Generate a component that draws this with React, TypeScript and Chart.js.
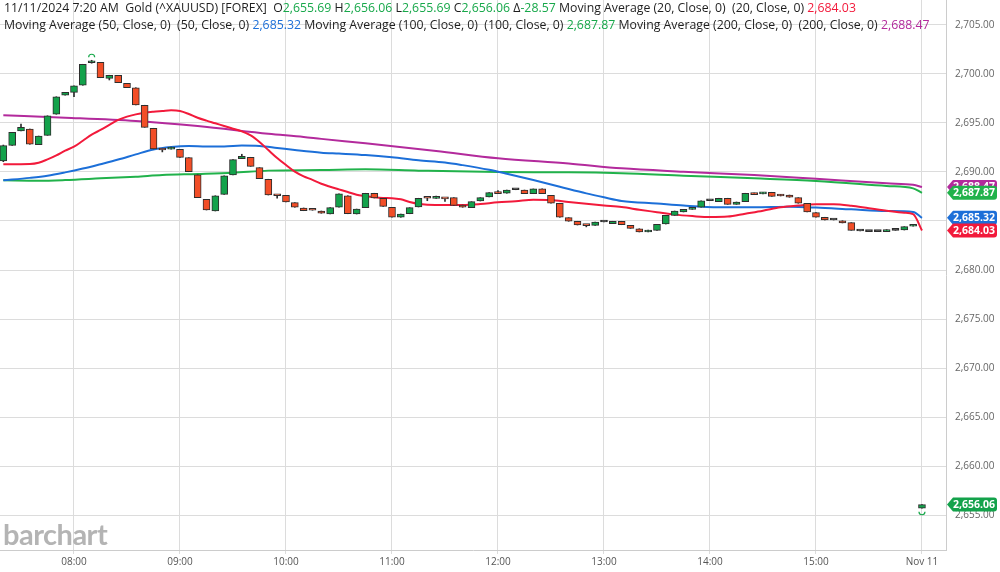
import React, { useEffect, useRef } from 'react';
import { Chart, registerables } from 'chart.js';

Chart.register(...registerables);

// ---------- DATA ----------
const candleTimes: string[] = [
  '07:20', '07:25', '07:30', '07:35', '07:40', '07:45', '07:50', '07:55',
  '08:00', '08:05', '08:10', '08:15', '08:20', '08:25', '08:30', '08:35', '08:40', '08:45', '08:50', '08:55',
  '09:00', '09:05', '09:10', '09:15', '09:20', '09:25', '09:30', '09:35', '09:40', '09:45', '09:50', '09:55',
  '10:00', '10:05', '10:10', '10:15', '10:20', '10:25', '10:30', '10:35', '10:40', '10:45', '10:50', '10:55',
  '11:00', '11:05', '11:10', '11:15', '11:20', '11:25', '11:30', '11:35', '11:40', '11:45', '11:50', '11:55',
  '12:00', '12:05', '12:10', '12:15', '12:20', '12:25', '12:30', '12:35', '12:40', '12:45', '12:50', '12:55',
  '13:00', '13:05', '13:10', '13:15', '13:20', '13:25', '13:30', '13:35', '13:40', '13:45', '13:50', '13:55',
  '14:00', '14:05', '14:10', '14:15', '14:20', '14:25', '14:30', '14:35', '14:40', '14:45', '14:50', '14:55',
  '15:00', '15:05', '15:10', '15:15', '15:20', '15:25', '15:30', '15:35', '15:40', '15:45', '15:50', '15:55',
  '16:00',
];

const opens: number[] = [
  2691.12, 2692.72, 2694.18, 2694.39, 2692.79, 2693.74, 2695.89, 2697.83,
  2698.13, 2698.85, 2701.15, 2701.19, 2699.56, 2699.87, 2699.05, 2698.60, 2696.81, 2694.46, 2692.26, 2692.33,
  2692.32, 2691.46, 2689.72, 2687.21, 2686.02, 2687.72, 2689.69, 2691.36, 2691.50, 2690.44, 2689.26, 2687.60,
  2687.62, 2686.87, 2686.33, 2686.12, 2686.02, 2685.71, 2686.40, 2687.58, 2685.71, 2686.36, 2687.83, 2687.32,
  2686.40, 2685.38, 2685.74, 2686.43, 2687.33, 2687.31, 2687.26, 2687.38, 2686.63, 2686.36, 2687.04, 2687.45,
  2687.99, 2687.83, 2688.19, 2688.16, 2687.79, 2688.27, 2687.62, 2686.81, 2685.34, 2684.97, 2684.53, 2684.56,
  2684.90, 2684.73, 2684.97, 2684.56, 2684.21, 2683.88, 2684.05, 2684.69, 2685.58, 2685.92, 2686.19, 2686.40,
  2687.07, 2686.97, 2687.32, 2686.70, 2686.97, 2687.86, 2687.76, 2687.93, 2687.72, 2687.65, 2687.38, 2686.81,
  2685.85, 2685.38, 2685.10, 2685.03, 2684.83, 2683.98, 2683.91, 2683.91, 2683.91, 2684.05, 2684.08, 2684.46,
  2655.69,
];
const highs: number[] = [
  2692.75, 2694.05, 2694.90, 2694.39, 2693.67, 2695.74, 2697.68, 2698.13,
  2698.78, 2700.99, 2701.40, 2701.19, 2699.87, 2699.87, 2699.05, 2698.60, 2696.81, 2694.46, 2692.26, 2692.55,
  2692.32, 2691.46, 2689.72, 2687.21, 2687.58, 2689.62, 2691.26, 2691.81, 2691.50, 2690.44, 2689.26, 2687.60,
  2687.62, 2686.87, 2686.33, 2686.12, 2686.02, 2686.36, 2687.76, 2687.58, 2686.22, 2687.83, 2687.83, 2687.32,
  2686.40, 2685.71, 2686.36, 2687.32, 2687.33, 2687.55, 2687.26, 2687.38, 2686.63, 2686.97, 2687.38, 2687.89,
  2688.10, 2688.16, 2688.19, 2688.16, 2688.27, 2688.27, 2687.62, 2686.81, 2685.34, 2684.97, 2684.53, 2684.90,
  2684.90, 2684.97, 2684.97, 2684.56, 2684.21, 2684.08, 2684.66, 2685.58, 2686.02, 2686.19, 2686.36, 2687.07,
  2687.07, 2687.32, 2687.32, 2686.94, 2687.83, 2687.86, 2687.93, 2687.93, 2687.72, 2687.65, 2687.38, 2686.81,
  2685.85, 2685.38, 2685.10, 2685.03, 2684.83, 2683.98, 2683.91, 2683.91, 2684.12, 2684.05, 2684.42, 2684.59,
  2656.06,
];
const lows: number[] = [
  2691.05, 2692.72, 2694.18, 2692.83, 2692.79, 2693.74, 2695.89, 2697.83,
  2697.68, 2698.85, 2701.10, 2699.62, 2699.39, 2699.11, 2698.60, 2696.84, 2694.56, 2692.35, 2692.05, 2692.33,
  2691.50, 2690.03, 2687.38, 2686.12, 2686.02, 2687.72, 2689.69, 2691.36, 2690.58, 2689.32, 2687.65, 2687.32,
  2686.94, 2686.40, 2686.05, 2686.10, 2685.79, 2685.71, 2686.40, 2685.74, 2685.71, 2686.36, 2687.35, 2686.50,
  2685.38, 2685.38, 2685.74, 2686.43, 2687.07, 2687.31, 2687.00, 2686.60, 2686.40, 2686.36, 2687.04, 2687.45,
  2687.79, 2687.83, 2688.19, 2687.79, 2687.79, 2687.79, 2686.81, 2685.38, 2684.97, 2684.59, 2684.40, 2684.56,
  2684.90, 2684.73, 2684.62, 2684.25, 2683.88, 2683.88, 2684.05, 2684.69, 2685.58, 2685.92, 2686.19, 2686.40,
  2687.07, 2686.97, 2686.70, 2686.70, 2686.97, 2687.69, 2687.76, 2687.52, 2687.55, 2687.42, 2686.81, 2685.92,
  2685.38, 2685.10, 2685.10, 2684.80, 2684.05, 2683.98, 2683.91, 2683.91, 2683.91, 2684.05, 2684.08, 2684.46,
  2655.69,
];
const closes: number[] = [
  2692.69, 2694.05, 2694.56, 2692.83, 2693.67, 2695.74, 2697.68, 2698.13,
  2698.78, 2700.99, 2701.20, 2699.62, 2699.87, 2699.11, 2698.60, 2696.84, 2694.56, 2692.35, 2692.24, 2692.35,
  2691.50, 2690.03, 2687.38, 2686.12, 2687.58, 2689.62, 2691.26, 2691.60, 2690.58, 2689.32, 2687.65, 2687.58,
  2686.94, 2686.40, 2686.05, 2686.10, 2685.79, 2686.36, 2687.76, 2685.74, 2686.22, 2687.83, 2687.35, 2686.50,
  2685.38, 2685.71, 2686.36, 2687.32, 2687.32, 2687.32, 2687.25, 2686.60, 2686.40, 2686.97, 2687.38, 2687.89,
  2687.79, 2688.16, 2688.19, 2687.79, 2688.27, 2687.79, 2686.81, 2685.38, 2684.97, 2684.59, 2684.52, 2684.90,
  2684.90, 2684.97, 2684.62, 2684.25, 2683.88, 2684.08, 2684.66, 2685.58, 2686.02, 2686.19, 2686.36, 2687.07,
  2687.07, 2687.32, 2686.70, 2686.94, 2687.83, 2687.69, 2687.93, 2687.52, 2687.55, 2687.42, 2686.81, 2685.92,
  2685.38, 2685.10, 2685.10, 2684.80, 2684.05, 2683.98, 2683.91, 2683.91, 2684.12, 2684.05, 2684.42, 2684.59,
  2656.06,
];

const ma20Times: string[] = [
  '07:20', '07:35', '07:40', '07:45', '07:50', '07:55', '08:00', '08:05', '08:10', '08:15', '08:20', '08:25',
  '08:30', '08:35', '08:40', '08:45', '08:50', '08:55', '09:00', '09:05', '09:10', '09:15', '09:20', '09:25',
  '09:30', '09:35', '09:40', '09:45', '09:50', '09:55', '10:00', '10:05', '10:10', '10:15', '10:20', '10:25',
  '10:30', '10:35', '10:40', '10:45', '10:50', '10:55', '11:00', '11:05', '11:10', '11:15', '11:20', '11:30',
  '11:40', '11:50', '12:00', '12:10', '12:20', '12:30', '12:40', '12:50', '13:00', '13:10', '13:20', '13:30',
  '13:40', '13:50', '14:00', '14:10', '14:20', '14:30', '14:40', '14:50', '15:00', '15:10', '15:20', '15:30',
  '15:40', '15:50', '15:55', '16:00',
];
const ma20Values: number[] = [
  2690.79, 2690.82, 2690.95, 2691.29, 2691.70, 2692.18, 2692.58, 2693.19, 2693.81, 2694.29, 2694.80, 2695.31,
  2695.65, 2695.88, 2696.05, 2696.15, 2696.22, 2696.29, 2696.22, 2695.92, 2695.54, 2695.24, 2694.97, 2694.69,
  2694.42, 2694.15, 2693.74, 2693.06, 2692.24, 2691.43, 2690.71, 2690.03, 2689.55, 2689.20, 2688.80, 2688.50,
  2688.23, 2687.96, 2687.68, 2687.55, 2687.42, 2687.35, 2687.33, 2687.21, 2686.94, 2686.75, 2686.67, 2686.63,
  2686.63, 2686.73, 2686.91, 2687.01, 2687.18, 2687.14, 2686.94, 2686.75, 2686.58, 2686.42, 2686.15, 2685.90,
  2685.65, 2685.50, 2685.40, 2685.45, 2685.75, 2686.05, 2686.40, 2686.58, 2686.70, 2686.70, 2686.55, 2686.29,
  2686.05, 2685.85, 2685.71, 2684.03,
];

const ma50Times: string[] = [
  '07:20', '07:35', '07:45', '07:55', '08:05', '08:15', '08:25', '08:35', '08:45', '08:55', '09:05', '09:15',
  '09:25', '09:35', '09:45', '09:55', '10:05', '10:20', '10:30', '10:45', '11:00', '11:15', '11:30', '11:40',
  '11:55', '12:05', '12:20', '12:35', '12:50', '13:00', '13:10', '13:30', '13:45', '14:05', '14:25', '14:45',
  '15:00', '15:20', '15:40', '15:55', '16:00',
];
const ma50Values: number[] = [
  2689.15, 2689.40, 2689.62, 2689.96, 2690.35, 2690.80, 2691.27, 2691.80, 2692.30, 2692.55, 2692.65, 2692.60,
  2692.60, 2692.70, 2692.65, 2692.45, 2692.24, 2691.97, 2691.88, 2691.73, 2691.50, 2691.20, 2690.97, 2690.70,
  2690.22, 2689.82, 2689.18, 2688.50, 2687.82, 2687.42, 2687.05, 2686.78, 2686.57, 2686.40, 2686.40, 2686.45,
  2686.37, 2686.19, 2686.02, 2685.92, 2685.32,
];

const ma100Times: string[] = [
  '07:20', '07:40', '07:55', '08:15', '08:35', '08:50', '09:10', '09:30', '09:50', '10:20', '10:45', '11:15',
  '12:00', '12:40', '13:10', '13:45', '14:25', '15:00', '15:40', '15:55', '16:00',
];
const ma100Values: number[] = [
  2689.15, 2689.11, 2689.18, 2689.35, 2689.52, 2689.69, 2689.80, 2689.93, 2690.14, 2690.20, 2690.27, 2690.14,
  2690.00, 2689.97, 2689.87, 2689.62, 2689.35, 2689.08, 2688.57, 2688.33, 2687.87,
];

const ma200Times: string[] = [
  '07:20', '07:55', '08:35', '09:10', '09:50', '10:10', '10:20', '10:45', '11:25', '12:00', '12:40', '13:10',
  '13:45', '14:25', '15:00', '15:40', '15:55', '16:00',
];
const ma200Values: number[] = [
  2695.78, 2695.54, 2695.20, 2694.69, 2693.91, 2693.58, 2693.38, 2692.93, 2692.15, 2691.40, 2690.87, 2690.37,
  2690.03, 2689.69, 2689.30, 2688.84, 2688.70, 2688.47,
];

const yTickValues: number[] = [2655, 2660, 2665, 2670, 2675, 2680, 2685, 2690, 2695, 2700, 2705];
const xTickTimes: string[] = ['08:00', '09:00', '10:00', '11:00', '12:00', '13:00', '14:00', '15:00', '16:00'];
const xTickLabels: string[] = ['08:00', '09:00', '10:00', '11:00', '12:00', '13:00', '14:00', '15:00', 'Nov 11'];

const headerStamp = '11/11/2024 7:20 AM';
const headerSymbol = 'Gold (^XAUUSD) [FOREX]';
const changeValue = -28.57;

// ---------- STYLE ----------
const C_GREEN = '#13a24b';
const C_RED = '#f24e27';
const C_EDGE = '#2e2e2e';
const C_MA20 = '#f21a3b';
const C_MA50 = '#1c6fd8';
const C_MA100 = '#21b24b';
const C_MA200 = '#b32a9c';
const C_TXT_GREEN = '#17a84a';
const FONT = '"Open Sans", "Noto Sans", sans-serif';

const slot = (t: string) => {
  const [h, m] = t.split(':').map(Number);
  return (h * 60 + m - 480) / 5;
};
const fmt = (v: number) =>
  v.toLocaleString('en-US', { minimumFractionDigits: 2, maximumFractionDigits: 2 });

const last = <T,>(a: T[]) => a[a.length - 1];

function drawTag(ctx: CanvasRenderingContext2D, x0: number, y: number, color: string, text: string) {
  const h = 14;
  const tip = 6;
  const right = 997;
  const r = 3;
  ctx.beginPath();
  ctx.moveTo(x0 + 1, y);
  ctx.lineTo(x0 + 1 + tip, y - h / 2);
  ctx.lineTo(right - r, y - h / 2);
  ctx.quadraticCurveTo(right, y - h / 2, right, y - h / 2 + r);
  ctx.lineTo(right, y + h / 2 - r);
  ctx.quadraticCurveTo(right, y + h / 2, right - r, y + h / 2);
  ctx.lineTo(x0 + 1 + tip, y + h / 2);
  ctx.closePath();
  ctx.fillStyle = color;
  ctx.fill();
  ctx.fillStyle = '#ffffff';
  ctx.font = `bold 10.5px ${FONT}`;
  ctx.textAlign = 'right';
  ctx.textBaseline = 'middle';
  ctx.fillText(text, right - 2, y + 0.5);
}

const overlayPlugin = {
  id: 'overlayTags',
  afterDraw(chart: any) {
    const ctx: CanvasRenderingContext2D = chart.ctx;
    const xs = chart.scales.x;
    const ys = chart.scales.y;
    const area = chart.chartArea;
    ctx.save();
    // session high / low markers
    const hi = Math.max(...highs);
    const lo = Math.min(...lows);
    const hiIdx = highs.indexOf(hi);
    const loIdx = lows.indexOf(lo);
    ctx.strokeStyle = C_TXT_GREEN;
    ctx.lineWidth = 1.2;
    ctx.beginPath();
    ctx.arc(xs.getPixelForValue(slot(candleTimes[hiIdx])), ys.getPixelForValue(hi) - 3, 3, Math.PI, 2 * Math.PI);
    ctx.stroke();
    ctx.beginPath();
    ctx.arc(xs.getPixelForValue(slot(candleTimes[loIdx])), ys.getPixelForValue(lo) + 3.5, 3, 0, Math.PI);
    ctx.stroke();
    // price tags
    const tags: [number, string][] = [
      [last(ma200Values), C_MA200],
      [last(ma100Values), C_MA100],
      [last(ma50Values), C_MA50],
      [last(ma20Values), C_MA20],
      [last(closes), C_GREEN],
    ];
    tags.forEach(([v, c]) => drawTag(ctx, area.right, ys.getPixelForValue(v), c, fmt(v)));
    ctx.restore();
  },
};

function App() {
  const canvasRef = useRef<HTMLCanvasElement | null>(null);

  useEffect(() => {
    if (!canvasRef.current) return;
    const bodyColors = opens.map((o, i) => (closes[i] > o ? C_GREEN : closes[i] < o ? C_RED : C_EDGE));
    const lineDs = (label: string, times: string[], values: number[], color: string, order: number) => ({
      type: 'line' as const,
      label,
      data: times.map((t, i) => ({ x: slot(t), y: values[i] })),
      borderColor: color,
      backgroundColor: color,
      borderWidth: 2,
      pointRadius: 0,
      cubicInterpolationMode: 'monotone' as const,
      order,
    });

    const chart = new Chart(canvasRef.current, {
      type: 'bar',
      data: {
        datasets: [
          {
            type: 'bar',
            label: 'body',
            data: candleTimes.map((t, i) => ({ x: slot(t), y: [opens[i], closes[i]] })) as any,
            backgroundColor: bodyColors,
            borderColor: C_EDGE,
            borderWidth: 1,
            borderSkipped: false,
            barThickness: 7,
            minBarLength: 2,
            grouped: false,
            order: 0,
          },
          {
            type: 'bar',
            label: 'wick',
            data: candleTimes.map((t, i) => ({ x: slot(t), y: [lows[i], highs[i]] })) as any,
            backgroundColor: C_EDGE,
            borderWidth: 0,
            barThickness: 1,
            grouped: false,
            order: 1,
          },
          lineDs('MA20', ma20Times, ma20Values, C_MA20, 2),
          lineDs('MA50', ma50Times, ma50Values, C_MA50, 3),
          lineDs('MA100', ma100Times, ma100Values, C_MA100, 4),
          lineDs('MA200', ma200Times, ma200Values, C_MA200, 5),
        ] as any,
      },
      options: {
        responsive: false,
        devicePixelRatio: 1,
        animation: false,
        layout: { padding: 0, autoPadding: false },
        plugins: { legend: { display: false }, tooltip: { enabled: false }, title: { display: false } },
        scales: {
          x: {
            type: 'linear',
            min: -8.377,
            max: 98.72,
            offset: false,
            afterBuildTicks: (s: any) => {
              s.ticks = xTickTimes.map((t) => ({ value: slot(t) }));
            },
            afterFit: (s: any) => {
              s.height = 22;
              s.paddingLeft = 0;
              s.paddingRight = 0;
            },
            grid: { color: '#dcdcdc', lineWidth: 1, tickLength: 4, offset: false, drawTicks: true },
            border: { color: '#cccccc' },
            ticks: {
              autoSkip: false,
              maxRotation: 0,
              padding: 2,
              color: '#555555',
              font: { family: FONT, size: 10 },
              callback: (v: any) => {
                const i = xTickTimes.findIndex((t) => slot(t) === Number(v));
                return i >= 0 ? xTickLabels[i] : '';
              },
            },
          },
          y: {
            type: 'linear',
            position: 'right',
            min: 2651.43,
            max: 2707.55,
            afterBuildTicks: (s: any) => {
              s.ticks = yTickValues.map((v) => ({ value: v }));
            },
            afterFit: (s: any) => {
              s.width = 54;
              s.paddingTop = 0;
              s.paddingBottom = 0;
            },
            grid: { color: '#dcdcdc', lineWidth: 1, drawTicks: false },
            border: { color: '#cccccc' },
            ticks: {
              padding: 9,
              color: '#666666',
              font: { family: FONT, size: 10 },
              callback: (v: any) => fmt(Number(v)),
            },
          },
        },
      } as any,
      plugins: [overlayPlugin],
    });
    return () => chart.destroy();
  }, []);

  const lo = last(opens), lh = last(highs), ll = last(lows), lc = last(closes);
  const g = { color: C_TXT_GREEN };

  return (
    <div style={{ position: 'absolute', left: 0, top: 0, width: 1000, height: 572, background: '#fff', overflow: 'hidden' }}>
      <canvas ref={canvasRef} width={1000} height={572} style={{ display: 'block' }} />
      <div
        style={{
          position: 'absolute', left: 4, top: -1, font: `12.3px ${FONT}`, lineHeight: '17px',
          color: '#1e1e1e', whiteSpace: 'pre', pointerEvents: 'none',
        }}
      >
        <div>
          {headerStamp}{'  '}{headerSymbol}{'  '}O<span style={g}>{fmt(lo)}</span> H<span style={g}>{fmt(lh)}</span> L
          <span style={g}>{fmt(ll)}</span> C<span style={g}>{fmt(lc)}</span> Δ<span style={g}>{changeValue.toFixed(2)}</span>
          {' '}Moving Average (20, Close, 0){'  '}(20, Close, 0) <span style={{ color: C_MA20 }}>{fmt(last(ma20Values))}</span>
        </div>
        <div>
          Moving Average (50, Close, 0){'  '}(50, Close, 0) <span style={{ color: C_MA50 }}>{fmt(last(ma50Values))}</span>
          {' '}Moving Average (100, Close, 0){'  '}(100, Close, 0) <span style={{ color: C_TXT_GREEN }}>{fmt(last(ma100Values))}</span>
          {' '}Moving Average (200, Close, 0){'  '}(200, Close, 0) <span style={{ color: C_MA200 }}>{fmt(last(ma200Values))}</span>
        </div>
      </div>
      <div
        style={{
          position: 'absolute', left: 3, top: 519, font: `700 29px Lato, ${FONT}`, lineHeight: '29px',
          color: '#b4b4b4', letterSpacing: '-0.5px', pointerEvents: 'none',
        }}
      >
        barchart
      </div>
    </div>
  );
}

export default App;
